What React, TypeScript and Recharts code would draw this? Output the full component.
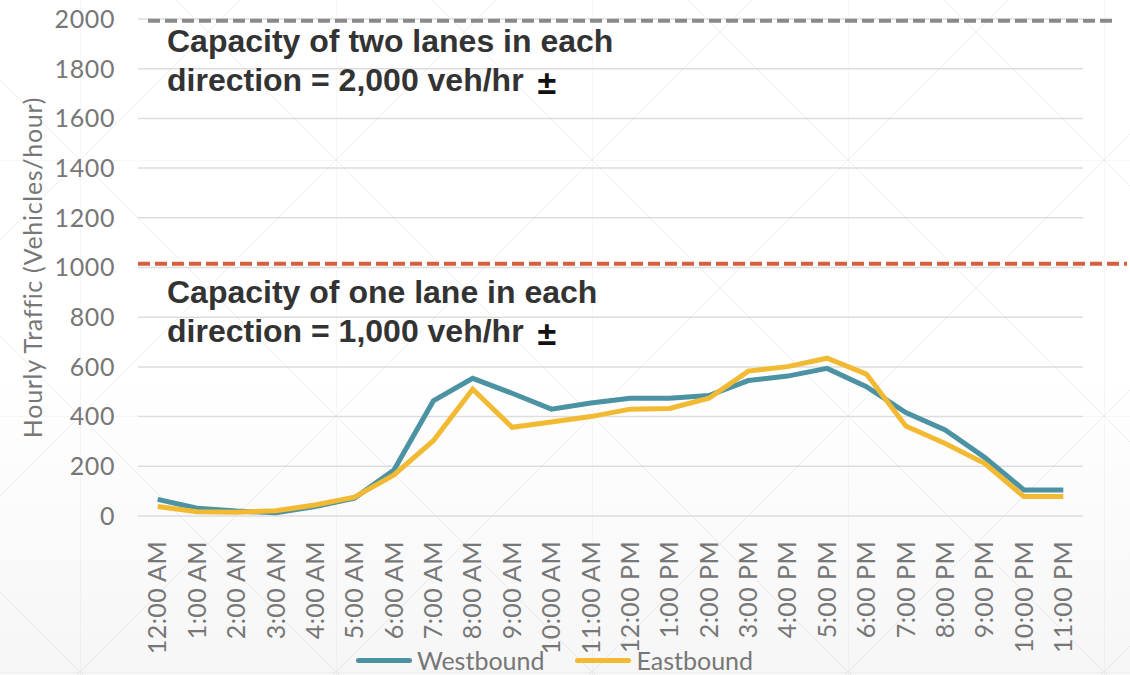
import React from 'react';
import { LineChart, Line, XAxis, YAxis, CartesianGrid, Legend, ReferenceLine } from 'recharts';

const hours = [
  '12:00 AM', '1:00 AM', '2:00 AM', '3:00 AM', '4:00 AM', '5:00 AM',
  '6:00 AM', '7:00 AM', '8:00 AM', '9:00 AM', '10:00 AM', '11:00 AM',
  '12:00 PM', '1:00 PM', '2:00 PM', '3:00 PM', '4:00 PM', '5:00 PM',
  '6:00 PM', '7:00 PM', '8:00 PM', '9:00 PM', '10:00 PM', '11:00 PM',
];
const westbound = [67, 31, 20, 13, 38, 72, 185, 463, 554, 494, 430, 455, 474, 474, 485, 545, 563, 594, 520, 416, 346, 236, 105, 105];
const eastbound = [38, 17, 15, 21, 44, 76, 165, 303, 510, 357, 378, 400, 430, 433, 474, 583, 601, 635, 571, 362, 292, 212, 78, 78];
const yTicks = [0, 200, 400, 600, 800, 1000, 1200, 1400, 1600, 1800, 2000];
const twoLaneCapacity = 1993;
const oneLaneCapacity = 1015;

const data = hours.map((hour, i) => ({ hour, westbound: westbound[i], eastbound: eastbound[i] }));

const TEAL = '#4b93a3';
const GOLD = '#f2b933';
const TICK = '#777777';
const tickFont = 'Lato, "Open Sans", sans-serif';

const pattern =
  "url(\"data:image/svg+xml;utf8,<svg xmlns='http://www.w3.org/2000/svg' width='256' height='256'>" +
  "<g stroke='%23efefef' stroke-width='1' fill='none'><path d='M0 0H256M0 0V256M0 0L256 256M256 0L0 256'/></g></svg>\")";

const HourTick = (props: any) => {
  const { x, y, payload } = props;
  return (
    <g transform={`translate(${x},${y})`}>
      <text
        transform="rotate(-90)"
        x={-17}
        y={0}
        dy="0.35em"
        textAnchor="end"
        fill={TICK}
        fontSize={25}
        letterSpacing={0.4}
        fontFamily={tickFont}
      >
        {payload.value}
      </text>
    </g>
  );
};

const renderLegend = () => (
  <div
    style={{
      display: 'flex',
      justifyContent: 'center',
      alignItems: 'center',
      height: 30,
      paddingLeft: 26,
      fontFamily: tickFont,
      fontSize: 25,
      color: TICK,
    }}
  >
    {[
      { name: 'Westbound', color: TEAL },
      { name: 'Eastbound', color: GOLD },
    ].map((item, i) => (
      <div key={item.name} style={{ display: 'flex', alignItems: 'center', marginLeft: i ? 31 : 0 }}>
        <span style={{ width: 56, height: 5, borderRadius: 3, background: item.color, marginRight: 5 }} />
        <span>{item.name}</span>
      </div>
    ))}
  </div>
);

const capLine = (color: string, extendLeft: number, extendRight: number) => (p: any) => (
  <line
    x1={p.x1 + extendLeft}
    y1={p.y1}
    x2={p.x2 + extendRight}
    y2={p.y2}
    stroke={color}
    strokeWidth={4}
    strokeDasharray="12 5"
  />
);

const noteStyle: React.CSSProperties = {
  position: 'absolute',
  left: 167,
  fontFamily: '"Liberation Sans", Arial, sans-serif',
  fontWeight: 700,
  fontSize: 32,
  lineHeight: '38px',
  color: '#333333',
  whiteSpace: 'nowrap',
};

const pm = (
  <span
    style={{
      position: 'relative',
      top: 3,
      marginLeft: 14,
      color: '#111',
      fontWeight: 700,
      fontSize: 34,
    }}
  >
    ±
  </span>
);

export default function App() {
  return (
    <div
      style={{
        position: 'absolute',
        left: 0,
        top: 0,
        width: 1130,
        height: 675,
        backgroundColor: '#ffffff',
        backgroundImage: `linear-gradient(to bottom, rgba(255,255,255,0) 55%, rgba(0,0,0,0.035) 100%), ${pattern}`,
        backgroundPosition: '0 0, 80px 160px',
        overflow: 'hidden',
      }}
    >
      <LineChart width={1130} height={675} data={data} margin={{ top: 19, right: 47, left: 0, bottom: 0 }}>
        <CartesianGrid vertical={false} stroke="#dddddd" strokeWidth={1.5} />
        <XAxis
          dataKey="hour"
          interval={0}
          height={129}
          axisLine={false}
          tickLine={false}
          padding={{ left: 19.7, right: 19.7 }}
          tick={<HourTick />}
        />
        <YAxis
          domain={[0, 2000]}
          ticks={yTicks}
          width={138}
          axisLine={false}
          tickLine={false}
          tickSize={0}
          tickMargin={23}
          tick={{ fill: TICK, fontSize: 25, fontFamily: tickFont, letterSpacing: 0.6 }}
          label={{
            value: 'Hourly Traffic (Vehicles/hour)',
            position: 'insideLeft',
            content: ({ viewBox }: any) => (
              <text
                x={viewBox.x + 33}
                y={viewBox.y + viewBox.height / 2}
                transform={`rotate(-90, ${viewBox.x + 33}, ${viewBox.y + viewBox.height / 2})`}
                textAnchor="middle"
                dy="0.35em"
                fill={TICK}
                fontSize={25}
                letterSpacing={0.7}
                fontFamily={tickFont}
              >
                Hourly Traffic (Vehicles/hour)
              </text>
            ),
          }}
        />
        <ReferenceLine y={twoLaneCapacity} shape={capLine('#8a8a8a', 10, 30)} />
        <ReferenceLine y={oneLaneCapacity} shape={capLine('#d65f3e', 0, 44)} />
        <Legend verticalAlign="bottom" content={renderLegend} />
        <Line
          type="linear"
          dataKey="westbound"
          name="Westbound"
          stroke={TEAL}
          strokeWidth={5}
          dot={false}
          isAnimationActive={false}
        />
        <Line
          type="linear"
          dataKey="eastbound"
          name="Eastbound"
          stroke={GOLD}
          strokeWidth={5}
          dot={false}
          isAnimationActive={false}
        />
      </LineChart>
      <div style={{ ...noteStyle, top: 22 }}>
        Capacity of two lanes in each
        <br />
        direction = 2,000 veh/hr{pm}
      </div>
      <div style={{ ...noteStyle, top: 273 }}>
        Capacity of one lane in each
        <br />
        direction = 1,000 veh/hr{pm}
      </div>
    </div>
  );
}
